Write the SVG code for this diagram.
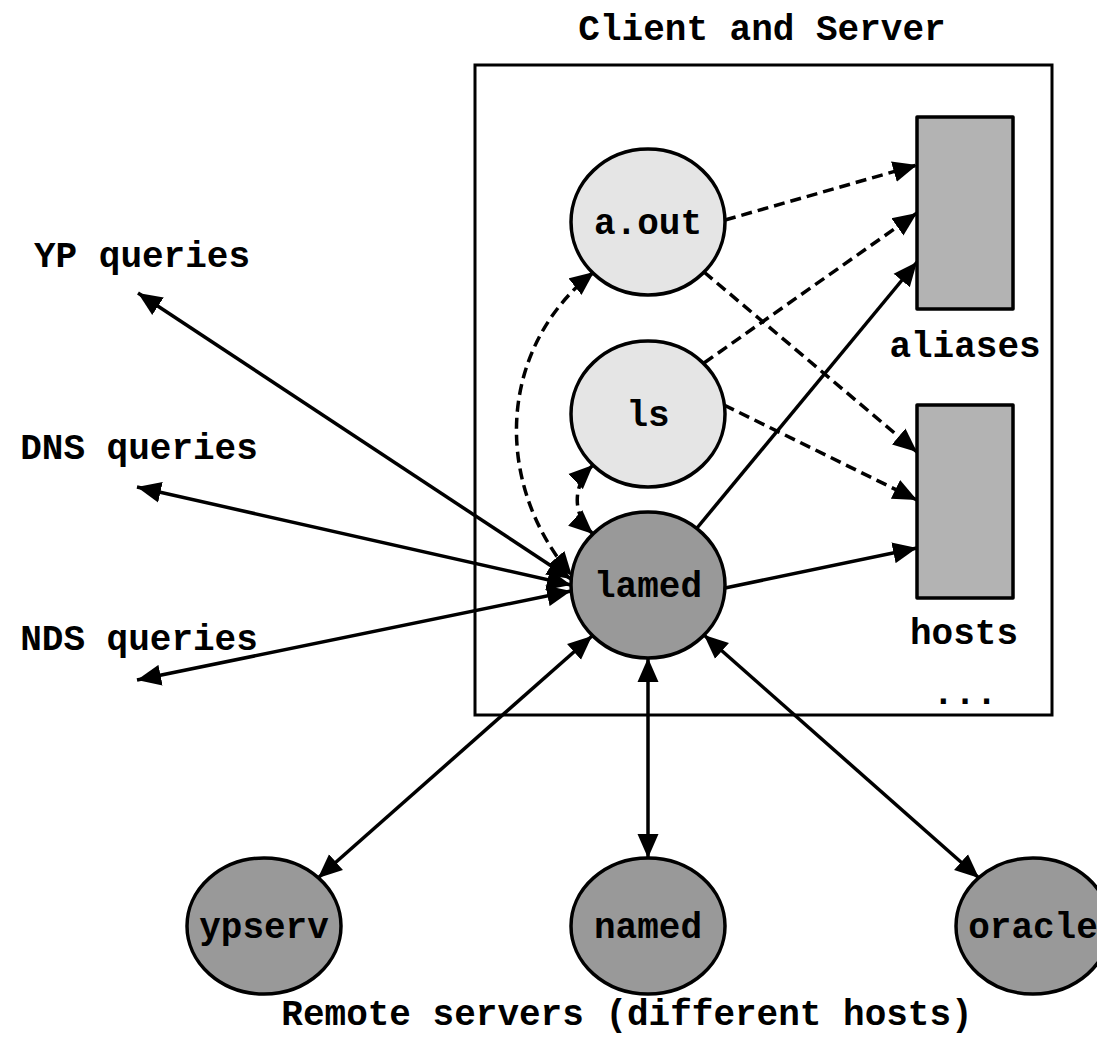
<svg xmlns="http://www.w3.org/2000/svg" width="1097" height="1041" viewBox="0 0 1097 1041">
<style>
text{font-family:"Liberation Mono","Courier New",monospace;font-weight:bold;font-size:36px;fill:#000;text-anchor:middle}
.box{fill:none;stroke:#000;stroke-width:3}
.proc{fill:#e5e5e5;stroke:#000;stroke-width:3.5}
.srv{fill:#999999;stroke:#000;stroke-width:3.5}
.file{fill:#b3b3b3;stroke:#000;stroke-width:3.5;stroke-linejoin:round}
.e{fill:none;stroke:#000;stroke-width:3.5}
.d{stroke-dasharray:11,6}
.a{marker-end:url(#ah)}
.b{marker-start:url(#ah);marker-end:url(#ah)}
</style>
<defs>
<marker id="ah" markerUnits="userSpaceOnUse" markerWidth="26" markerHeight="22" refX="24" refY="10.5" orient="auto-start-reverse" viewBox="0 0 26 21">
<path d="M0,0 L24,10.5 L0,21 z" fill="#000"/>
</marker>
</defs>
<rect class="box" x="475" y="65" width="577" height="650"/>
<text x="762" y="40">Client and Server</text>
<text x="142" y="267">YP queries</text>
<text x="139" y="459">DNS queries</text>
<text x="139" y="650">NDS queries</text>
<text x="627" y="1025">Remote servers (different hosts)</text>
<g id="edges">
<path class="e d a" d="M725,220 L917,165"/>
<path class="e d a" d="M704,363 L917,213"/>
<path class="e a" d="M697,528 L917,262"/>
<path class="e d a" d="M704,272 L917,452"/>
<path class="e d a" d="M724,405 L917,500"/>
<path class="e a" d="M725,588 L917,548"/>
<path class="e d b" d="M594,272 C500,345 490,480 572,576"/>
<path class="e d b" d="M593,465 C572,485 572,515 593,534"/>
<path class="e b" d="M138,293 L571,579"/>
<path class="e b" d="M137,487 L571,585"/>
<path class="e b" d="M137,680 L571,591"/>
<path class="e b" d="M592,636 L318,878"/>
<path class="e b" d="M648,658 L648,858"/>
<path class="e b" d="M704,635 L979,878"/>
</g>
<g id="aout"><ellipse class="proc" cx="648" cy="222" rx="77" ry="73"/><text x="648" y="234">a.out</text></g>
<g id="ls"><ellipse class="proc" cx="648" cy="414" rx="77" ry="73"/><text x="648" y="426">ls</text></g>
<g id="lamed"><ellipse class="srv" cx="648" cy="585" rx="77" ry="73"/><text x="648" y="597">lamed</text></g>
<g id="aliases"><rect class="file" x="917" y="117" width="96" height="192"/><text x="965" y="357">aliases</text></g>
<g id="hosts"><rect class="file" x="917" y="405" width="96" height="193"/><text x="964" y="644">hosts</text></g>
<g id="more"><text x="965" y="704">...</text></g>
<g id="ypserv"><ellipse class="srv" cx="264" cy="926" rx="77" ry="68"/><text x="264" y="938">ypserv</text></g>
<g id="named"><ellipse class="srv" cx="648" cy="926" rx="77" ry="68"/><text x="648" y="938">named</text></g>
<g id="oracle"><ellipse class="srv" cx="1033" cy="926" rx="77" ry="68"/><text x="1033" y="938">oracle</text></g>
</svg>
